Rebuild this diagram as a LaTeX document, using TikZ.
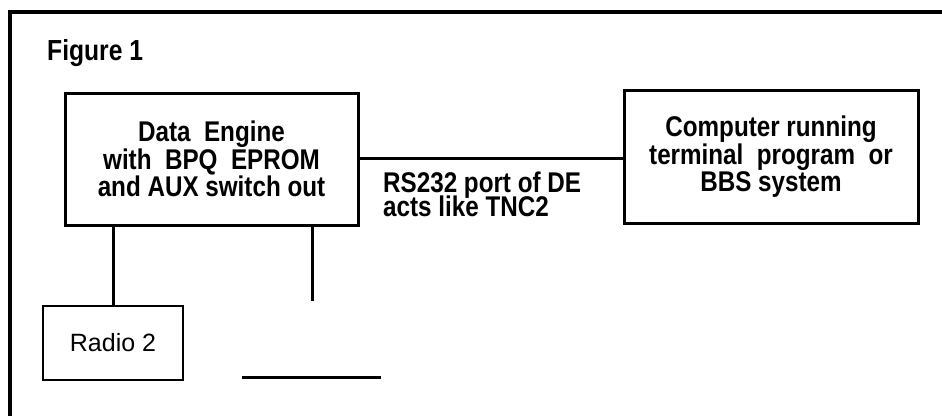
\documentclass[tikz,border=0pt]{standalone}
\usepackage{fontspec}
\setmainfont{Liberation Sans}
\newfontfamily\narrowbold[FakeStretch=0.85]{Liberation Sans Bold}
\begin{document}
\begin{tikzpicture}[x=1pt,y=-1pt,
  blk/.style={draw,line width=3pt,inner sep=0pt,align=center,
    font=\narrowbold\fontsize{28.5}{25.5}\selectfont},
  lbl/.style={inner sep=0pt,font=\narrowbold\fontsize{28.5}{25}\selectfont},
  wire/.style={line width=3pt}]
\useasboundingbox (0,0) rectangle (942,416);
\draw[line width=4pt] (942,12) -- (10,12) -- (10,416);
\node[lbl,anchor=base west,font=\narrowbold\fontsize{29}{29}\selectfont] (fig) at (47,60) {Figure 1};
\node[blk,minimum width=293pt,minimum height=132pt] (de) at (211.5,159)
  {Data\ \ Engine\\with\ \ BPQ\ \ EPROM\\and AUX switch out};
\node[blk,minimum width=294pt,minimum height=133pt] (comp) at (771,156.5)
  {Computer running\\terminal\ \ program\ \ or\\BBS system};
\draw[wire] (de.east |- 0,158) -- (comp.west |- 0,158);
\node[lbl,anchor=base west] (rs1) at (383,192) {RS232 port of DE};
\node[lbl,anchor=base west] (rs2) at (383,216) {acts like TNC2};
\node[draw,line width=2pt,minimum width=140pt,minimum height=74pt,inner sep=0pt,
  font=\fontsize{25}{25}\selectfont] (radio) at (113,343) {Radio 2};
\draw[wire] (radio.north |- de.south) -- (radio.north);
\coordinate (stub) at (312,301);
\draw[wire] (stub |- de.south) -- (stub);
\coordinate (h1) at (242,377);
\coordinate (h2) at (381,377);
\draw[wire] (h1) -- (h2);
\end{tikzpicture}
\end{document}
